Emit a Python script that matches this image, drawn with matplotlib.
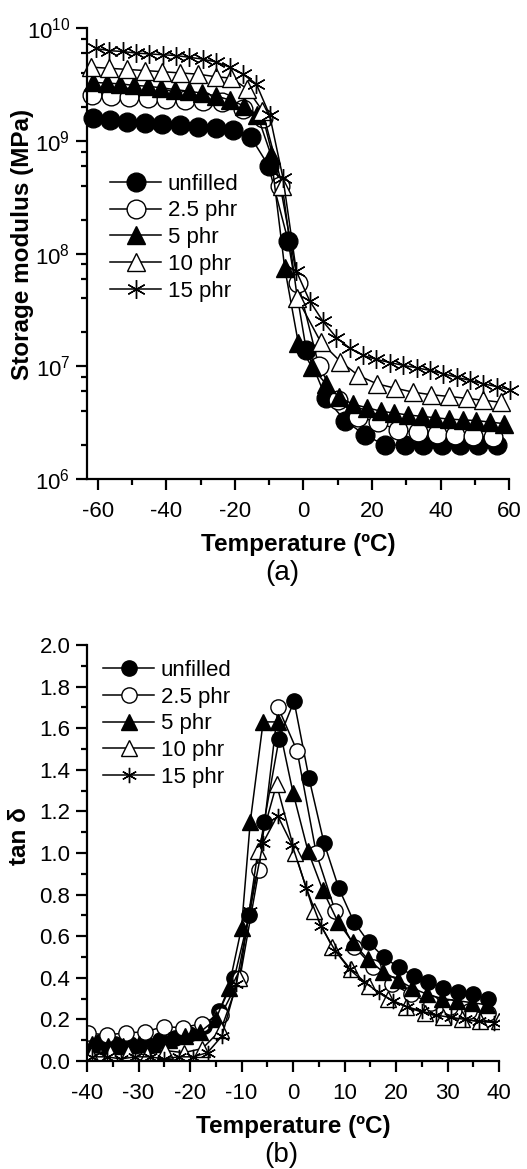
import numpy as np
import matplotlib
matplotlib.use('Agg')
import matplotlib.pyplot as plt
from matplotlib.ticker import LogLocator, MultipleLocator, NullFormatter, FormatStrFormatter

plt.rcParams['font.family'] = ['Liberation Sans', 'DejaVu Sans']
plt.rcParams['mathtext.fontset'] = 'custom'
plt.rcParams['mathtext.rm'] = 'Liberation Sans'
plt.rcParams['mathtext.it'] = 'Liberation Sans:italic'
plt.rcParams['mathtext.bf'] = 'Liberation Sans:bold'
plt.rcParams['axes.unicode_minus'] = False

labels = ['unfilled', '2.5 phr', '5 phr', '10 phr', '15 phr']

# (a) storage modulus, MPa
uf_T = [-61.5, -56.5, -51.5, -46.4, -41.3, -36.0, -30.8, -25.6, -20.6, -15.4, -10.2, -4.5,
        0.8, 6.6, 12.1, 18.0, 23.8, 29.6, 34.9, 40.4, 45.7, 51.0, 56.5]
uf_E = [1.58e9, 1.52e9, 1.47e9, 1.44e9, 1.40e9, 1.37e9, 1.33e9, 1.29e9, 1.24e9, 1.08e9, 6.0e8, 1.3e8,
        1.4e7, 5.2e6, 3.3e6, 2.45e6, 2.0e6, 2.0e6, 2.0e6, 2.0e6, 2.0e6, 2.0e6, 2.0e6]

p25_T = [-61.7, -56.3, -50.9, -45.5, -40.1, -34.7, -29.3, -23.9, -17.7, -11.8, -6.8, -1.6,
         4.5, 10.0, 16.0, 21.8, 27.6, 33.4, 39.0, 44.2, 49.5, 55.3]
p25_E = [2.55e9, 2.5e9, 2.45e9, 2.4e9, 2.35e9, 2.3e9, 2.25e9, 2.2e9, 1.9e9, 1.6e9, 4.0e8, 5.5e7,
         1.0e7, 5.0e6, 3.55e6, 3.2e6, 2.7e6, 2.6e6, 2.5e6, 2.45e6, 2.4e6, 2.35e6]

p5_T = [-61.5, -57.5, -53.5, -49.5, -45.5, -41.5, -37.5, -33.5, -29.5, -25.5, -21.5, -17.5, -13.5,
        -9.5, -5.5, -1.5, 2.5, 6.5, 10.5, 14.5, 18.5, 22.5, 26.5, 30.5, 34.5, 38.5, 42.5, 46.5,
        50.5, 54.5, 58.5]
p5_E = [3.3e9, 3.25e9, 3.2e9, 3.1e9, 3.05e9, 2.95e9, 2.85e9, 2.75e9, 2.65e9, 2.5e9, 2.3e9, 2.05e9, 1.7e9,
        7.5e8, 7.5e7, 1.6e7, 9.8e6, 7.0e6, 5.3e6, 4.6e6, 4.3e6, 4.0e6, 3.85e6, 3.7e6, 3.6e6, 3.5e6, 3.4e6,
        3.35e6, 3.3e6, 3.2e6, 3.1e6]

p10_T = [-62.0, -56.8, -51.6, -46.4, -41.2, -36.0, -30.8, -25.6, -21.2, -16.5, -12.0, -6.2, -1.8,
         5.0, 10.8, 16.0, 21.4, 26.7, 32.0, 37.2, 42.6, 47.6, 52.5, 57.6]
p10_E = [4.5e9, 4.4e9, 4.3e9, 4.2e9, 4.1e9, 4.0e9, 3.9e9, 3.7e9, 3.6e9, 2.9e9, 1.85e9, 4.0e8, 4.0e7,
         1.65e7, 1.1e7, 8.3e6, 7.0e6, 6.4e6, 5.9e6, 5.6e6, 5.4e6, 5.2e6, 5.0e6, 4.8e6]

p15_T = [-60.6, -56.7, -52.8, -48.9, -45.0, -41.1, -37.2, -33.3, -29.4, -25.5, -21.6, -17.7, -13.8,
         -9.9, -6.0, -2.1, 1.8, 5.7, 9.6, 13.5, 17.4, 21.3, 25.2, 29.1, 33.0, 36.9, 40.8, 44.7, 48.6,
         52.5, 56.4, 60.3]
p15_E = [6.6e9, 6.3e9, 6.2e9, 6.0e9, 5.9e9, 5.8e9, 5.7e9, 5.5e9, 5.3e9, 5.0e9, 4.5e9, 3.9e9, 3.2e9,
         1.7e9, 4.7e8, 7.0e7, 3.8e7, 2.5e7, 1.8e7, 1.45e7, 1.25e7, 1.15e7, 1.08e7, 1.02e7, 9.7e6, 9.2e6,
         8.6e6, 8.0e6, 7.5e6, 7.0e6, 6.6e6, 6.2e6]

# (b) tan delta
uf_Tb = [-37.5, -34.6, -31.7, -28.8, -25.9, -23.0, -20.1, -17.2, -14.3, -11.4, -8.5, -5.6, -2.7, 0.2,
         3.1, 6.0, 8.9, 11.8, 14.7, 17.6, 20.5, 23.4, 26.3, 29.2, 32.1, 35.0, 37.9]
uf_tan = [0.09, 0.08, 0.08, 0.09, 0.10, 0.11, 0.13, 0.17, 0.24, 0.40, 0.70, 1.15, 1.55, 1.73,
          1.36, 1.05, 0.83, 0.67, 0.57, 0.50, 0.45, 0.41, 0.38, 0.35, 0.33, 0.32, 0.30]

p25_Tb = [-39.9, -36.2, -32.5, -28.8, -25.1, -21.4, -17.7, -14.0, -10.3, -6.6, -2.9, 0.8, 4.5, 8.2,
          11.9, 15.6, 19.3, 23.0, 26.7, 30.4, 34.1, 37.8]
p25_tan = [0.135, 0.125, 0.135, 0.14, 0.165, 0.16, 0.18, 0.22, 0.40, 0.92, 1.70, 1.49, 1.0, 0.72,
           0.55, 0.45, 0.37, 0.32, 0.28, 0.26, 0.24, 0.23]

p5_Tb = [-39.0, -36.0, -33.0, -30.0, -27.0, -24.0, -21.0, -18.0, -15.0, -12.5, -10.0, -8.3, -5.8,
         -2.9, 0.0, 2.9, 5.8, 8.7, 11.6, 14.5, 17.4, 20.3, 23.2, 26.1, 29.0, 31.9, 34.8, 37.7]
p5_tan = [0.08, 0.07, 0.07, 0.08, 0.08, 0.10, 0.12, 0.14, 0.20, 0.35, 0.64, 1.15, 1.63,
          1.63, 1.29, 1.01, 0.82, 0.67, 0.57, 0.49, 0.43, 0.39, 0.35, 0.32, 0.30, 0.29, 0.28, 0.27]

p10_Tb = [-39.2, -35.6, -32.0, -28.4, -24.8, -21.2, -17.6, -14.0, -10.4, -6.8, -3.2, 0.4, 4.0, 7.6,
          11.2, 14.8, 18.4, 22.0, 25.6, 29.2, 32.8, 36.4, 40.0]
p10_tan = [0.03, 0.04, 0.04, 0.03, 0.05, 0.04, 0.06, 0.15, 0.40, 1.01, 1.33, 1.0, 0.72, 0.55,
           0.44, 0.36, 0.30, 0.26, 0.23, 0.21, 0.20, 0.19, 0.19]

p15_Tb = [-39.0, -36.2, -33.4, -30.6, -27.8, -25.0, -22.2, -19.4, -16.6, -13.8, -11.0, -8.4, -5.8,
          -3.0, -0.2, 2.6, 5.4, 8.2, 11.0, 13.8, 16.6, 19.4, 22.2, 25.0, 27.8, 30.6, 33.4, 36.2, 39.0]
p15_tan = [0.02, 0.02, 0.01, 0.02, 0.02, 0.01, 0.02, 0.02, 0.04, 0.12, 0.37, 0.72, 1.05,
           1.18, 1.04, 0.83, 0.65, 0.53, 0.44, 0.38, 0.33, 0.29, 0.26, 0.24, 0.22, 0.21, 0.20, 0.19, 0.185]

markers = ['o', 'o', '^', '^', (6, 2, 0)]
faces = ['black', 'white', 'black', 'white', 'black']

fig = plt.figure(figsize=(5.27, 11.69), dpi=100, facecolor='white')
ax1 = fig.add_axes([0.1651, 0.5902, 0.8008, 0.3858])
ax2 = fig.add_axes([0.1651, 0.0924, 0.7818, 0.3559])

top = [(uf_T, uf_E), (p25_T, p25_E), (p5_T, p5_E), (p10_T, p10_E), (p15_T, p15_E)]
bot = [(uf_Tb, uf_tan), (p25_Tb, p25_tan), (p5_Tb, p5_tan), (p10_Tb, p10_tan), (p15_Tb, p15_tan)]

for i in range(5):
    ax1.plot(top[i][0], top[i][1], color='black', lw=1.1, marker=markers[i], ms=13.5,
             mfc=faces[i], mec='black', mew=1.0, label=labels[i], clip_on=False)
    ax2.plot(bot[i][0], bot[i][1], color='black', lw=1.1, marker=markers[i], ms=11,
             mfc=faces[i], mec='black', mew=1.0, label=labels[i])

ax1.set_yscale('log')
ax1.set_ylim(1e6, 1e10)
ax1.set_xlim(-63.2, 60)
ax1.set_xticks([-60, -40, -20, 0, 20, 40, 60])
ax1.xaxis.set_minor_locator(MultipleLocator(10))
ax1.yaxis.set_major_locator(LogLocator(base=10, numticks=10))
ax1.yaxis.set_minor_locator(LogLocator(base=10, subs=(2, 4, 6, 8), numticks=10))
ax1.yaxis.set_minor_formatter(NullFormatter())

ax2.set_xlim(-40, 40)
ax2.set_ylim(0, 2.0)
ax2.set_xticks(range(-40, 41, 10))
ax2.xaxis.set_minor_locator(MultipleLocator(5))
ax2.yaxis.set_major_locator(MultipleLocator(0.2))
ax2.yaxis.set_minor_locator(MultipleLocator(0.1))
ax2.yaxis.set_major_formatter(FormatStrFormatter('%.1f'))

for ax in (ax1, ax2):
    ax.spines['top'].set_visible(False)
    ax.spines['right'].set_visible(False)
    ax.spines['left'].set_linewidth(1.6)
    ax.spines['bottom'].set_linewidth(1.6)
    ax.tick_params(which='major', direction='out', length=8, width=1.6, labelsize=16, pad=4)
    ax.tick_params(which='minor', direction='out', length=4.5, width=1.6)
    ax.tick_params(axis='x', which='major', pad=8)
    ax.set_xlabel('Temperature (ºC)', fontsize=17.5, fontweight='bold', labelpad=7.5)

ax1.set_ylabel('Storage modulus (MPa)', fontsize=17.5, fontweight='bold')
ax1.yaxis.set_label_coords(-0.125, 0.52)
ax2.set_ylabel('tan δ', fontsize=17.5, fontweight='bold')
ax2.yaxis.set_label_coords(-0.135, 0.54)

ax1.legend(loc='center left', bbox_to_anchor=(0.0545, 0.535), frameon=False, fontsize=16,
           handlelength=2.3, handletextpad=0.3, labelspacing=0.26, borderpad=0, borderaxespad=0)
ax2.legend(loc='center left', bbox_to_anchor=(0.039, 0.81), frameon=False, fontsize=16,
           handlelength=2.3, handletextpad=0.3, labelspacing=0.26, borderpad=0, borderaxespad=0)

fig.text(0.535, 1 - 573 / 1169, '(a)', fontsize=20, ha='center', va='center')
fig.text(0.533, 1 - 1155 / 1169, '(b)', fontsize=20, ha='center', va='center')

plt.savefig('out.png', dpi=100, facecolor='white')
